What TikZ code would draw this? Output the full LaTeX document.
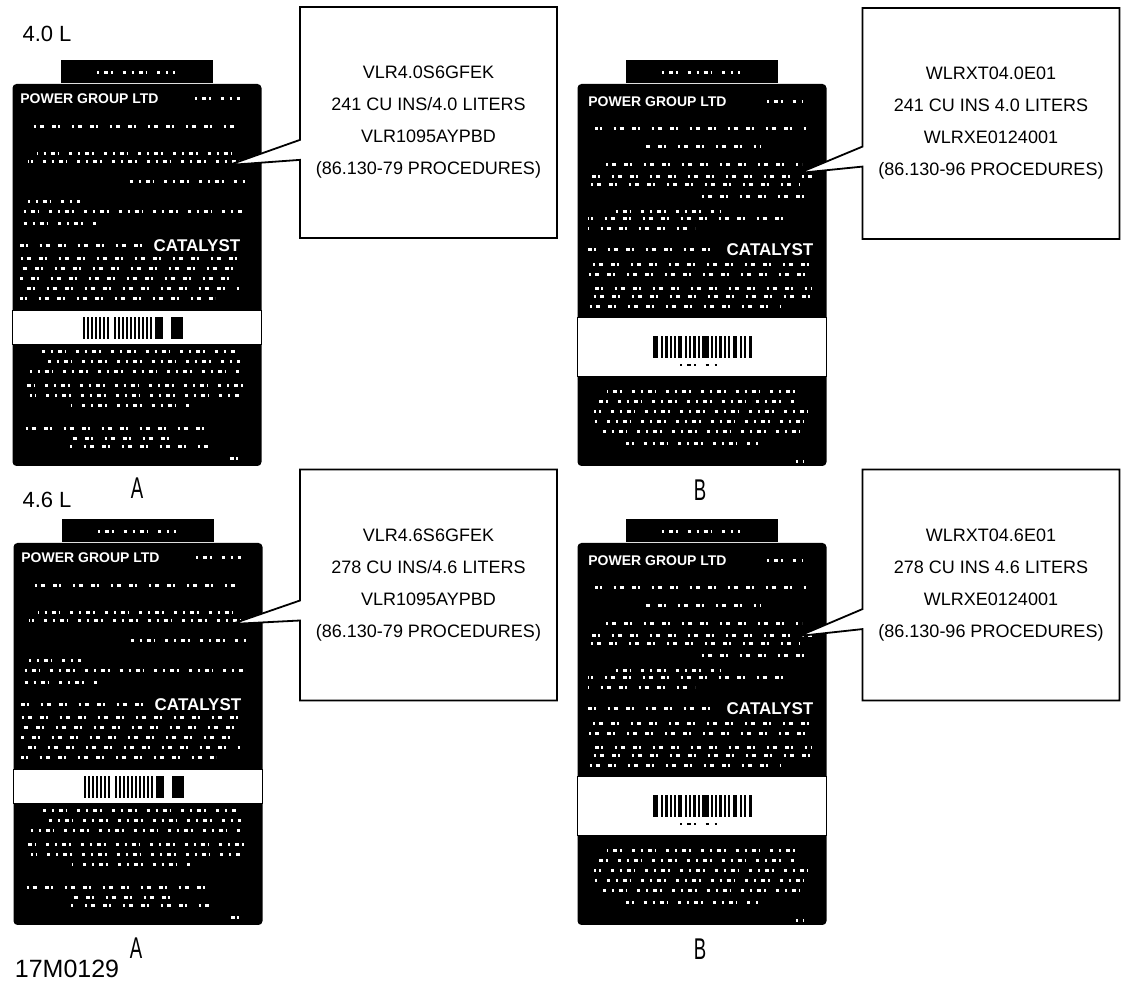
\documentclass[tikz,border=0pt]{standalone}
\usepackage{fontspec}
\setmainfont{Liberation Sans}
\newfontfamily\narrowsans[FakeStretch=0.62]{Liberation Sans}
\usetikzlibrary{shapes.callouts}

% small print rows on the plates: depth/left/right (px from top centre)
\def\printA{43/-109/103, 70/-100/98, 78/-109/108, 98/-14/108, 118/-109/-57, 128/-117/108, 140/-117/-37, 175/-117/103, 185/-117/103, 195/-117/103, 205/-117/103, 215/-117/78, 268/-102/98, 278/-92/103, 288/-107/108, 302/-112/108, 312/-107/103, 322/-67/58, 345/-112/78, 355/-67/38, 363/-67/73, 375/86/108}
\def\printB{45/-107/106, 63/-60/58, 81/-107/100, 93/-114/115, 101/-114/98, 113/-12/111, 128/-90/18, 135/-114/90, 145/-114/-7, 181/-114/110, 191/-114/110, 205/-114/110, 213/-114/110, 223/-114/78, 308/-95/98, 318/-105/95, 328/-108/110, 338/-108/108, 348/-108/105, 360/-76/56, 378/88/101}
% bar codes: left/width
\def\barsA{-54/2, -50/2, -46/2, -42/2, -38/2, -34/2, -30/2, -23/2, -19/2, -15/2, -11/2, -7/2, -3/2, 1/2, 5/2, 9/2, 13/2, 18/8, 34/12}
\def\barsB{-49/5, -41/2, -37/3, -32/2, -28/2, -24/4, -17/2, -13/2, -9/3, -4/2, 0/7, 9/2, 13/2, 17/3, 22/2, 26/2, 31/4, 38/2, 42/2, 47/3}

\begin{document}
\begin{tikzpicture}[x=0.5pt, y=-0.5pt,
  plate/.style={fill=black, rounded corners=2pt, minimum width=124.5pt, minimum height=191pt, inner sep=0pt},
  platetab/.style={fill=black, minimum width=76pt, minimum height=11.5pt, inner sep=0pt},
  strip/.style={fill=white, draw=black, line width=0.4pt},
  smallprint/.style={white, line width=1.2pt, dash pattern=on 1pt off 2.5pt on 2pt off 1.5pt on 0.8pt off 5pt on 1.5pt off 3pt},
  oddprint/.style={smallprint, dash pattern=on 1.8pt off 1.2pt on 0.8pt off 6pt on 1pt off 2pt on 2.2pt off 4pt},
  plateword/.style={white, inner sep=0pt, font=\bfseries\fontsize{7}{7}\selectfont},
  note/.style={rectangle callout, draw, fill=white, line width=0.9pt, callout pointer width=10pt, minimum width=128.5pt, minimum height=115.5pt, inner sep=0pt, align=center, font=\fontsize{9}{16}\selectfont},
  capacity/.style={font=\fontsize{11}{11}\selectfont},
  viewtag/.style={font=\narrowsans\fontsize{15}{15}\selectfont}]
\useasboundingbox (0,0) rectangle (1121,983);

% emission plates
\foreach \p/\cx/\cy/\kind in {pa/137/275/A, pb/702/275/B, pc/138/734/A, pd/702/734/B}{
  \node[plate] (\p) at (\cx,\cy) {};
  \node[platetab, anchor=south] (\p tab) at (\p.north) {};
  \begin{scope}[shift={(\p.north)}]
    \draw[smallprint, line width=1.6pt] (-40,-11) -- (38,-11);
    \if A\kind
      \foreach \r/\a/\b in \printA {
        \pgfmathsetmacro\ph{mod(\r*5.3,17)}
        \ifodd\r \draw[oddprint, dash phase=\ph pt] (\a,\r) -- (\b,\r);
        \else \draw[smallprint, dash phase=\ph pt] (\a,\r) -- (\b,\r); \fi
      }
      \node[plateword, anchor=west] at (-117,15) {POWER GROUP LTD};
      \draw[smallprint] (58,15) -- (103,15);
      \draw[oddprint] (-117,162) -- (8,162);
      \node[plateword, font=\bfseries\fontsize{8.5}{8.5}\selectfont] at (60,162) {CATALYST};
      \draw[strip] (-124.5,227) rectangle (124.5,261);
      \foreach \x/\w in \barsA { \fill (\x,233) rectangle ++(\w,22); }
    \else
      \foreach \r/\a/\b in \printB {
        \pgfmathsetmacro\ph{mod(\r*5.3,17)}
        \ifodd\r \draw[oddprint, dash phase=\ph pt] (\a,\r) -- (\b,\r);
        \else \draw[smallprint, dash phase=\ph pt] (\a,\r) -- (\b,\r); \fi
      }
      \node[plateword, anchor=west] at (-114,18) {POWER GROUP LTD};
      \draw[smallprint] (65,18) -- (101,18);
      \draw[oddprint] (-114,166) -- (16,166);
      \node[plateword, font=\bfseries\fontsize{8.5}{8.5}\selectfont] at (68,166) {CATALYST};
      \draw[strip] (-124.5,234) rectangle (124.5,293);
      \foreach \x/\w in \barsB { \fill (\x,252) rectangle ++(\w,22); }
      \draw[smallprint, black, line width=1pt] (-22,281) -- (15,281);
    \fi
  \end{scope}
}

% callouts
\coordinate (tipa) at (229,165);
\coordinate (tipb) at (799,173);
\coordinate (tipc) at (232,624);
\coordinate (tipd) at (799,636);
\node[note, callout absolute pointer=(tipa)] (notea) at (428.5,122.5) {VLR4.0S6GFEK\\241 CU INS/4.0 LITERS\\VLR1095AYPBD\\(86.130-79 PROCEDURES)};
\node[note, callout absolute pointer=(tipb)] (noteb) at (991,123.5) {WLRXT04.0E01\\241 CU INS 4.0 LITERS\\WLRXE0124001\\(86.130-96 PROCEDURES)};
\node[note, callout absolute pointer=(tipc)] (notec) at (428.5,585) {VLR4.6S6GFEK\\278 CU INS/4.6 LITERS\\VLR1095AYPBD\\(86.130-79 PROCEDURES)};
\node[note, callout absolute pointer=(tipd)] (noted) at (991,585) {WLRXT04.6E01\\278 CU INS 4.6 LITERS\\WLRXE0124001\\(86.130-96 PROCEDURES)};

% captions
\node[capacity] (cap40) at (47,34) {4.0 L};
\node[capacity] (cap46) at (47,500) {4.6 L};
\node[viewtag] (viewa) at (137,488) {A};
\node[viewtag] (viewb) at (700,490) {B};
\node[viewtag] (viewc) at (136,948) {A};
\node[viewtag] (viewd) at (700,949) {B};
\node[font=\fontsize{12.5}{12.5}\selectfont] (figno) at (67,969) {17M0129};
\end{tikzpicture}
\end{document}
